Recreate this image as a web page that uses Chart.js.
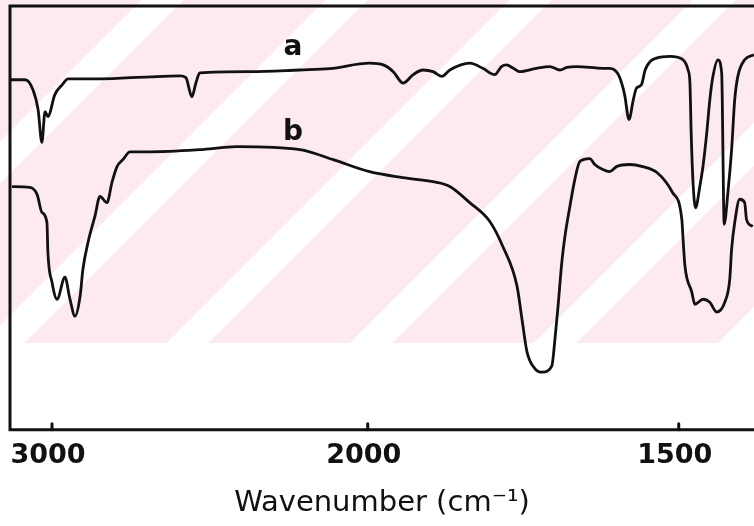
<!DOCTYPE html>
<html>
<head>
<meta charset="utf-8">
<script src="https://cdn.jsdelivr.net/npm/chart.js@4/dist/chart.umd.min.js"></script>
<style>
  html, body { margin: 0; padding: 0; background: #fff; }
  .wrap {
    position: relative; width: 754px; height: 526px;
    background:
      repeating-linear-gradient(135deg, #fdeaee 0px, #fdeaee 100px, #ffffff 100px, #ffffff 130px) 0 0 / 754px 343px no-repeat,
      #fff;
  }
  canvas { position: absolute; left: 0; top: 0; }
</style>
</head>
<body>
<div class="wrap"><canvas id="irChart" width="754" height="526"></canvas></div>
<script>
// spectrum a
const waveA = [3133, 3085, 3060, 3044, 3032, 3022, 3013, 2991, 2968, 2949, 2848, 2690, 2595, 2576, 2557, 2544, 2532, 2373, 2215, 2120,
  1997, 1975, 1959, 1943, 1927, 1911, 1895, 1881, 1868, 1836, 1815, 1796, 1785, 1777, 1766, 1756, 1729, 1707, 1691, 1680,
  1664, 1622, 1611, 1597, 1587, 1580, 1573, 1568, 1560, 1554, 1546, 1536, 1514, 1493, 1485, 1482, 1480, 1477, 1473, 1466,
  1461, 1455, 1450, 1445, 1437, 1431, 1430, 1429, 1427, 1421, 1415, 1410, 1405, 1394, 1379];
const transA = [82.6, 82.6, 80.2, 75.5, 67.8, 75.1, 73.9, 79.1, 81.4, 82.8, 82.8, 83.3, 83.5, 83.1, 78.6, 81.9, 84.2, 84.5, 84.9, 85.2,
  86.5, 86.1, 84.5, 81.8, 83.8, 84.9, 84.5, 83.4, 84.9, 86.5, 85.3, 83.8, 85.7, 86.1, 85.3, 84.5, 85.3, 85.7, 84.9, 85.5,
  85.7, 85.3, 85.3, 83.8, 79.1, 73.2, 77.9, 80.6, 81.4, 84.9, 86.9, 87.7, 88.1, 87.3, 84.9, 81.8, 70.0, 58.3, 52.4, 57.5,
  62.2, 70.0, 77.9, 83.4, 87.3, 84.2, 77.9, 66.1, 48.5, 55.9, 66.1, 77.9, 83.4, 87.3, 88.5];

// spectrum b
const waveB = [3127, 3070, 3047, 3032, 3016, 3013, 3000, 2984, 2959, 2943, 2927, 2911, 2902, 2886, 2864, 2848, 2826, 2810, 2794, 2775,
  2753, 2690, 2532, 2414, 2215, 2111, 1997, 1944, 1889, 1868, 1836, 1804, 1783, 1760, 1752, 1744, 1731, 1719, 1704, 1699,
  1694, 1688, 1683, 1675, 1667, 1659, 1643, 1635, 1622, 1611, 1600, 1579, 1558, 1535, 1510, 1495, 1493, 1490, 1479, 1474,
  1461, 1450, 1439, 1426, 1418, 1415, 1410, 1402, 1394, 1391, 1381];
const transB = [57.4, 57.2, 55.5, 51.3, 48.9, 41.9, 34.8, 30.8, 36.0, 30.8, 26.8, 31.5, 37.9, 44.2, 50.4, 55.1, 53.6, 58.4, 62.1, 63.8,
  65.6, 65.6, 66.1, 66.8, 66.1, 63.8, 60.9, 59.5, 58.4, 57.4, 53.6, 49.2, 43.3, 33.9, 26.1, 18.4, 14.4, 13.6, 15.1, 21.4,
  29.2, 39.5, 45.6, 52.7, 59.1, 63.3, 64.0, 62.6, 61.4, 60.9, 62.1, 62.6, 62.1, 60.7, 56.0, 49.6, 44.9, 38.6, 32.5, 29.6,
  30.8, 30.1, 27.8, 30.1, 35.5, 42.6, 48.9, 54.4, 53.6, 49.6, 48.0];

const xTicks = [3000, 2000, 1500];
const curveNames = ['a', 'b'];
const nameWave = [2237, 2237];
const nameTrans = [90.1, 70.1];

// wavenumber axis: scale doubles below 2000 cm-1
const BREAK = 2000;
const LOW_STRETCH = 1.97;

class SplitWaveScale extends Chart.LinearScale {
  units(v) {
    return v >= BREAK ? this.max - v : (this.max - BREAK) + (BREAK - v) * LOW_STRETCH;
  }
  getPixelForValue(v) {
    return this.left + this.width * this.units(v) / this.units(this.min);
  }
  getValueForPixel(p) {
    const u = (p - this.left) / this.width * this.units(this.min);
    const hi = this.max - BREAK;
    return u <= hi ? this.max - u : BREAK - (u - hi) / LOW_STRETCH;
  }
}
SplitWaveScale.id = 'splitwave';
SplitWaveScale.defaults = Chart.LinearScale.defaults;
Chart.register(SplitWaveScale);

const ink = '#111';

const framePlugin = {
  id: 'frame',
  afterDraw(chart) {
    const { ctx, chartArea: a, scales } = chart;
    ctx.save();
    ctx.strokeStyle = ink;
    ctx.lineWidth = 3;
    ctx.lineCap = 'round';
    ctx.beginPath();
    ctx.moveTo(a.right + 2, a.top);
    ctx.lineTo(a.left, a.top);
    ctx.lineTo(a.left, a.bottom);
    ctx.lineTo(a.right + 2, a.bottom);
    ctx.stroke();
    // short inward tick stubs
    scales.x.ticks.forEach(t => {
      const px = scales.x.getPixelForValue(t.value);
      ctx.beginPath();
      ctx.moveTo(px, a.bottom);
      ctx.lineTo(px, a.bottom - 6);
      ctx.stroke();
    });
    // curve names
    ctx.fillStyle = ink;
    ctx.font = 'bold 28px "DejaVu Sans"';
    ctx.textAlign = 'center';
    ctx.textBaseline = 'middle';
    curveNames.forEach((n, i) => {
      ctx.fillText(n, scales.x.getPixelForValue(nameWave[i]), scales.y.getPixelForValue(nameTrans[i]));
    });
    ctx.restore();
  }
};

const lineStyle = {
  borderColor: ink,
  borderWidth: 2.8,
  pointRadius: 0,
  fill: false,
  cubicInterpolationMode: 'monotone',
};

new Chart(document.getElementById('irChart'), {
  type: 'line',
  data: {
    datasets: [
      { label: 'a', data: waveA.map((x, i) => ({ x, y: transA[i] })), ...lineStyle },
      { label: 'b', data: waveB.map((x, i) => ({ x, y: transB[i] })), ...lineStyle },
    ],
  },
  options: {
    responsive: false,
    animation: false,
    layout: { padding: { left: 10, top: 6, right: 0, bottom: 5 } },
    plugins: { legend: { display: false }, tooltip: { enabled: false } },
    scales: {
      x: {
        type: 'splitwave',
        min: 1379,
        max: 3133,
        afterBuildTicks: (scale) => { scale.ticks = xTicks.map(v => ({ value: v })); },
        grid: { display: false, drawTicks: false },
        border: { display: false },
        ticks: {
          autoSkip: false,
          maxRotation: 0,
          padding: 10,
          labelOffset: -4,
          color: ink,
          font: { family: 'DejaVu Sans', size: 27, weight: 'bold' },
          callback: (v) => String(v),
        },
        title: {
          display: true,
          text: 'Wavenumber (cm\u207B\u00B9)',
          color: ink,
          font: { family: 'DejaVu Sans', size: 29 },
          padding: { top: 4, bottom: 0 },
        },
      },
      y: {
        display: false,
        min: 0,
        max: 100,
      },
    },
  },
  plugins: [framePlugin],
});
</script>
</body>
</html>
